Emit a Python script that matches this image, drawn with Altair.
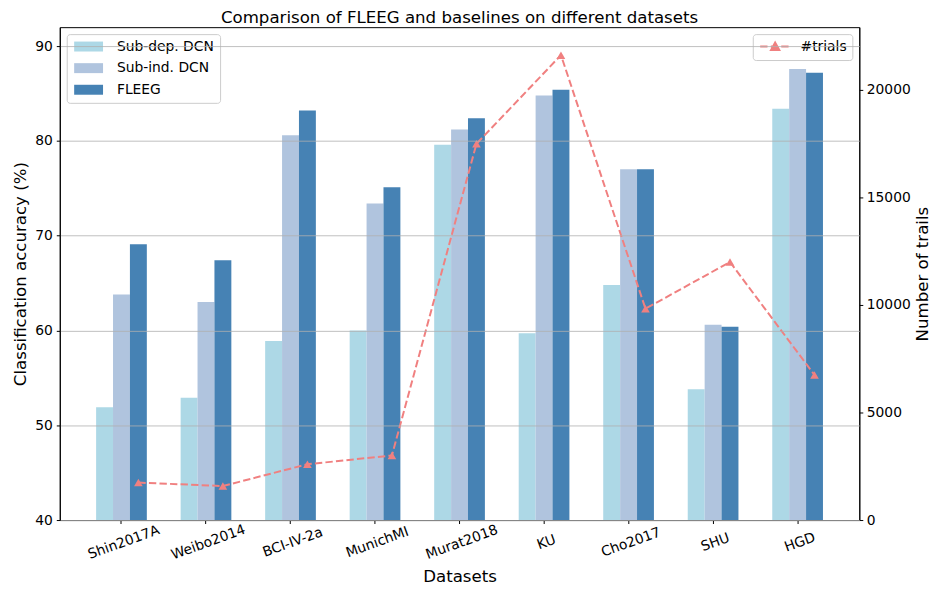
import altair as alt
import pandas as pd

datasets = ["Shin2017A", "Weibo2014", "BCI-IV-2a", "MunichMI", "Murat2018",
            "KU", "Cho2017", "SHU", "HGD"]
series_names = ["Sub-dep. DCN", "Sub-ind. DCN", "FLEEG"]
sub_dep = [51.9, 52.9, 58.9, 60.0, 79.6, 59.7, 64.8, 53.8, 83.4]
sub_ind = [63.8, 63.0, 80.6, 73.4, 81.2, 84.8, 77.0, 60.6, 87.6]
fleeg = [69.1, 67.4, 83.2, 75.1, 82.4, 85.4, 77.0, 60.4, 87.2]
trials = [1740, 1580, 2592, 3000, 17480, 21600, 9820, 11988, 6740]
line_label = "#trials"

bar_colors = ["#add8e6", "#b0c4de", "#4682b4"]
line_color = "#f08080"
FONT = "DejaVu Sans"

rows = []
for name, vals in zip(series_names, [sub_dep, sub_ind, fleeg]):
    for d, v in zip(datasets, vals):
        rows.append({"dataset": d, "series": name, "acc": v})
bars_df = pd.DataFrame(rows)
line_df = pd.DataFrame({
    "dataset": datasets,
    "trials": trials,
    "label": [line_label] * len(datasets),
    "series": ["FLEEG"] * len(datasets),
    "idx": list(range(len(datasets))),
})

x_scale = alt.Scale(paddingInner=0.4, paddingOuter=0.43)
x_axis = alt.Axis(title="Datasets", labelAngle=340, labelAlign="center",
                  labelBaseline="top", labelPadding=12, titlePadding=7,
                  tickSize=3.5, grid=False)
xoff = alt.XOffset("series:N", sort=series_names,
                   scale=alt.Scale(paddingInner=0, paddingOuter=0))

# legend symbols: small nominal size, path drawn wider to the right
rect_path = "M-1,-1H4.8V1H-1Z"
line_path = ("M-1,0H0.47M1.13,0H2.6M3.23,0H4.7"
             "M1.16,0.72L2,-0.81L2.84,0.72Z")

bars = alt.Chart(bars_df).mark_bar().encode(
    x=alt.X("dataset:N", sort=datasets, scale=x_scale, axis=x_axis),
    xOffset=xoff,
    y=alt.Y("acc:Q", scale=alt.Scale(domain=[40, 92], nice=False, zero=False),
            axis=alt.Axis(title="Classification accuracy (%)",
                          values=[40, 50, 60, 70, 80, 90], grid=True,
                          gridColor="#b0b0b0", gridWidth=0.8, zindex=1,
                          tickSize=3.5, labelPadding=4, titlePadding=5)),
    y2=alt.datum(40),
    color=alt.Color("series:N", sort=series_names,
                    scale=alt.Scale(domain=series_names, range=bar_colors),
                    legend=alt.Legend(title=None, orient="top-left",
                                      symbolType=rect_path,
                                      symbolSize=100, symbolStrokeWidth=0,
                                      labelOffset=31, rowPadding=6.7)),
)

y2_scale = alt.Scale(domain=[0, 22900], nice=False, zero=True)
y2_axis = alt.Axis(orient="right", title="Number of trails", format="d",
                   values=[0, 5000, 10000, 15000, 20000], grid=False,
                   tickSize=3.5, labelPadding=3.5, titlePadding=4,
                   titleAngle=270, titleBaseline="top")

line = alt.Chart(line_df).mark_line(strokeDash=[7.4, 3.2], strokeWidth=2).encode(
    x=alt.X("dataset:N", sort=datasets),
    xOffset=alt.XOffset("series:N", sort=series_names),
    y=alt.Y("trials:Q", scale=y2_scale, axis=y2_axis),
    order=alt.Order("idx:Q"),
    stroke=alt.Stroke("label:N",
                      scale=alt.Scale(domain=[line_label], range=[line_color]),
                      legend=alt.Legend(title=None, orient="top-right",
                                        symbolType=line_path,
                                        symbolSize=100, symbolStrokeWidth=2,
                                        symbolFillColor=line_color,
                                        labelOffset=28.6)),
)

points = alt.Chart(line_df).mark_point(shape="triangle-up", filled=True, size=75,
                                       color=line_color, opacity=1).encode(
    x=alt.X("dataset:N", sort=datasets),
    xOffset=alt.XOffset("series:N", sort=series_names),
    y=alt.Y("trials:Q", scale=y2_scale, axis=y2_axis),
)

right = alt.layer(line, points)

chart = alt.layer(bars, right).resolve_scale(y="independent").properties(
    width=803, height=495,
    padding={"left": 4, "right": 0, "top": 1, "bottom": 0},
    title=alt.TitleParams("Comparison of FLEEG and baselines on different datasets",
                          font=FONT, fontSize=16.7, fontWeight="normal",
                          color="black", anchor="middle", offset=0),
).configure_view(
    stroke="black", strokeWidth=1
).configure_axis(
    labelFont=FONT, titleFont=FONT, labelFontSize=13.9, titleFontSize=16.7,
    labelColor="black", titleColor="black", titleFontWeight="normal",
    tickColor="black", domainColor="black", domainWidth=1,
).configure_legend(
    labelFont=FONT, labelFontSize=13.9, labelColor="black", padding=5.5,
    strokeColor="#cccccc", fillColor="rgba(255,255,255,0.8)", cornerRadius=3,
    offset=7, labelLimit=300,
)

chart.save("out.html", embed_options={"renderer": "svg", "actions": False})
